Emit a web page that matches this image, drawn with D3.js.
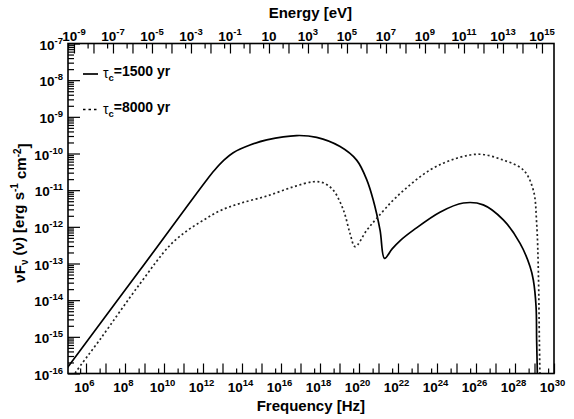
<!DOCTYPE html>
<html>
<head>
<meta charset="utf-8">
<script src="https://cdn.jsdelivr.net/npm/d3@7/dist/d3.min.js"></script>
<style>
  body { margin: 0; background: #fff; }
  text { font-family: "Liberation Sans", Arial, sans-serif; font-weight: bold; fill: #000; }
</style>
</head>
<body>
<script>
// log10 of frequency [Hz] and log10 of nuF_nu [erg s^-1 cm^-2]
var logNu1500 = [5.0, 5.09, 8.77, 12.19, 12.6, 13.1, 13.55, 14.41, 15.27, 16.8, 17.83, 19.03, 19.88, 20.4, 20.73, 21.08, 21.31,
                 21.7, 22.1, 22.79, 24.15, 25.35, 26.37, 27.4, 28.26, 28.77, 28.94, 29.08, 29.11, 29.15];
var logF1500  = [-15.88, -15.81, -13.18, -10.72, -10.45, -10.17, -9.98, -9.77, -9.63, -9.51, -9.56, -9.81, -10.18, -10.72, -11.27, -12.09, -12.86,
                 -12.6, -12.38, -12.09, -11.6, -11.35, -11.4, -11.81, -12.45, -13.08, -13.45, -14.18, -15.09, -16.1];
var logNu8000 = [5.2, 5.44, 6.72, 8.77, 10.31, 11.2, 12.02, 12.87, 13.9, 15.27, 16.63, 17.66, 18.17, 18.68, 19.2, 19.54, 19.8,
                 20.4, 20.91, 21.93, 23.64, 25.01, 26.2, 27.4, 28.43, 28.94, 29.11, 29.2, 29.25, 29.28];
var logF8000  = [-16.2, -15.99, -15.07, -13.55, -12.5, -12.1, -11.82, -11.56, -11.36, -11.16, -10.91, -10.77, -10.8, -11.0, -11.54, -12.18, -12.54,
                 -12.09, -11.77, -11.18, -10.45, -10.13, -10.02, -10.18, -10.45, -11.0, -11.9, -13.27, -15.09, -16.1];

var freqLabelExps = [6, 8, 10, 12, 14, 16, 18, 20, 22, 24, 26, 28, 30];
var energyLabelExps = [-9, -7, -5, -3, -1, 1, 3, 5, 7, 9, 11, 13, 15];
var fluxLabelExps = [-7, -8, -9, -10, -11, -12, -13, -14, -15, -16];
var seriesNames = ["1500 yr", "8000 yr"];

var width = 574, height = 419,
    plot = {left: 68, right: 554, top: 43.5, bottom: 373.5},
    hPlanck = 4.1357e-15; // eV s

var svg = d3.select("body").append("svg")
  .attr("width", width)
  .attr("height", height);

var nuMin = Math.pow(10, 5.077), nuMax = 1e30;
var x = d3.scaleLog().domain([nuMin, nuMax]).range([plot.left, plot.right]);
var xE = d3.scaleLog().domain([nuMin * hPlanck, nuMax * hPlanck]).range([plot.left, plot.right]);
var y = d3.scaleLog().domain([1e-16, 1e-7]).range([plot.bottom, plot.top]);

function inDomain(s, v) {
  var d = s.domain();
  return v >= d[0] * 0.9999 && v <= d[1] * 1.0001;
}

// tick values
var nuMajor = [], nuMinor = [], eMajor = [], eMinor = [], fMajor = [], fMinor = [];
for (var k = 5; k <= 30; k++) {
  if (inDomain(x, Math.pow(10, k))) nuMajor.push(Math.pow(10, k));
  if (inDomain(x, 5 * Math.pow(10, k))) nuMinor.push(5 * Math.pow(10, k));
}
for (var k = -10; k <= 16; k++) {
  if (inDomain(xE, Math.pow(10, k))) eMajor.push(Math.pow(10, k));
  if (inDomain(xE, 5 * Math.pow(10, k))) eMinor.push(5 * Math.pow(10, k));
}
for (var k = -16; k <= -7; k++) {
  fMajor.push(Math.pow(10, k));
  if (k < -7) for (var m = 2; m <= 9; m++) fMinor.push(m * Math.pow(10, k));
}

function tickAxis(axis, values, size, tx, ty) {
  var g = svg.append("g")
    .attr("transform", "translate(" + tx + "," + ty + ")")
    .call(axis.tickValues(values).tickSize(size).tickFormat(""));
  g.select(".domain").remove();
  g.selectAll("line").attr("stroke", "#000").attr("stroke-width", 1.2);
  return g;
}

tickAxis(d3.axisBottom(x), nuMajor, -10, 0, plot.bottom);
tickAxis(d3.axisBottom(x), nuMinor, -5, 0, plot.bottom);
tickAxis(d3.axisTop(xE), eMajor, -10, 0, plot.top);
tickAxis(d3.axisTop(xE), eMinor, -5, 0, plot.top);
tickAxis(d3.axisLeft(y), fMajor, -12, plot.left, 0);
tickAxis(d3.axisLeft(y), fMinor, -6, plot.left, 0);

function powLabel(t, exp) {
  t.append("tspan").text("10");
  if (exp !== 1) t.append("tspan").attr("dy", "-0.6em").style("font-size", "9.5px").text(exp);
}

freqLabelExps.forEach(function (p) {
  var t = svg.append("text")
    .attr("x", x(Math.pow(10, p)) - 1.5).attr("y", 392)
    .attr("text-anchor", "middle").style("font-size", "13.5px");
  powLabel(t, p);
});

energyLabelExps.forEach(function (p) {
  var t = svg.append("text")
    .attr("x", xE(Math.pow(10, p))).attr("y", 40.5)
    .attr("text-anchor", "middle").style("font-size", "13.5px");
  powLabel(t, p);
});

fluxLabelExps.forEach(function (p) {
  var t = svg.append("text")
    .attr("x", 63).attr("y", y(Math.pow(10, p)) + 6)
    .attr("text-anchor", "end").style("font-size", "13.5px");
  powLabel(t, p);
});

// axis titles
svg.append("text").attr("x", 365).attr("y", 411).attr("text-anchor", "end")
  .style("font-size", "15px").text("Frequency [Hz]");
svg.append("text").attr("x", 352).attr("y", 18).attr("text-anchor", "end")
  .style("font-size", "15px").text("Energy [eV]");

var yt = svg.append("text")
  .attr("transform", "translate(25,213) rotate(-90)")
  .attr("text-anchor", "middle").style("font-size", "15px");
yt.append("tspan").text("\u03bdF");
yt.append("tspan").attr("dy", "0.3em").style("font-size", "10px").text("\u03bd");
yt.append("tspan").attr("dy", "-0.3em").text(" (\u03bd) [erg s");
yt.append("tspan").attr("dy", "-0.55em").style("font-size", "10px").text("-1");
yt.append("tspan").attr("dy", "0.55em").text(" cm");
yt.append("tspan").attr("dy", "-0.55em").style("font-size", "10px").text("-2");
yt.append("tspan").attr("dy", "0.55em").text("]");

// curves
svg.append("clipPath").attr("id", "clip").append("rect")
  .attr("x", plot.left).attr("y", plot.top)
  .attr("width", plot.right - plot.left).attr("height", plot.bottom - plot.top);

var line = d3.line()
  .x(function (d) { return x(Math.pow(10, d[0])); })
  .y(function (d) { return y(Math.pow(10, d[1])); })
  .curve(d3.curveCatmullRom.alpha(0.5));

var data1500 = d3.zip(logNu1500, logF1500),
    data8000 = d3.zip(logNu8000, logF8000);

var curves = svg.append("g").attr("clip-path", "url(#clip)");
curves.append("path").attr("d", line(data1500))
  .attr("fill", "none").attr("stroke", "#000").attr("stroke-width", 1.7);
curves.append("path").attr("d", line(data8000))
  .attr("fill", "none").attr("stroke", "#222").attr("stroke-width", 1.7)
  .attr("stroke-dasharray", "2,2.6");

// frame
svg.append("rect")
  .attr("x", plot.left).attr("y", plot.top)
  .attr("width", plot.right - plot.left).attr("height", plot.bottom - plot.top)
  .attr("fill", "none").attr("stroke", "#000").attr("stroke-width", 1.6);

// legend
var legendY = [74, 109.5], legendDash = [null, "2.5,3"];
seriesNames.forEach(function (name, i) {
  svg.append("line")
    .attr("x1", 83).attr("x2", 98).attr("y1", legendY[i]).attr("y2", legendY[i])
    .attr("stroke", "#000").attr("stroke-width", 1.7)
    .attr("stroke-dasharray", legendDash[i]);
  var t = svg.append("text").attr("x", 103).attr("y", legendY[i] + 4)
    .style("font-size", "14px");
  t.append("tspan").style("font-weight", "normal").text("\u03c4");
  t.append("tspan").attr("dy", "0.35em").style("font-size", "9.5px").text("c");
  t.append("tspan").attr("dy", "-0.35em").text("=" + name);
});
</script>
</body>
</html>
